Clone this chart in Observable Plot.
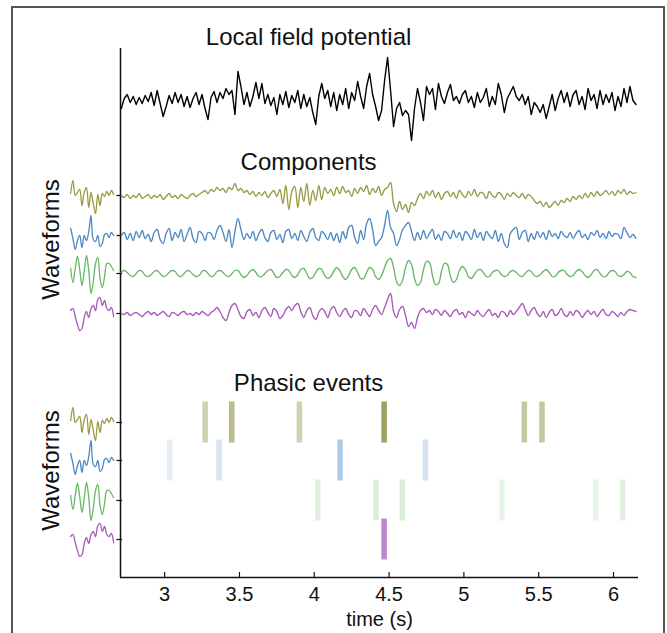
<!DOCTYPE html>
<html><head><meta charset="utf-8">
<script src="https://cdn.jsdelivr.net/npm/d3@7"></script>
<script src="https://cdn.jsdelivr.net/npm/@observablehq/plot@0.6"></script>
<style>
html,body{margin:0;padding:0;background:#fff;overflow:hidden;}
#wrap{position:relative;width:667px;height:633px;}
#wrap svg{position:absolute;left:0;top:0;}
#frame{position:absolute;left:11px;top:6px;width:654px;height:700px;border:2px solid #555;box-sizing:border-box;pointer-events:none;}
</style></head><body><div id="wrap"><div id="frame"></div></div>
<script>
// ---------- data ----------
const t0 = 2.71, dt = 0.02;           // sample grid of the traces (s)
const lfp = [-8,2,6,-2,4,-4,3,-3,5,-1,8,-5,10,-3,-16,-6,5,-3,8,-2,6,-6,4,-7,2,8,-4,6,-8,-19,3,9,-2,8,2,12,6,10,-14,29,14,-4,8,-6,4,18,2,17,-3,6,-5,3,-14,6,-4,9,-7,5,-2,10,-8,6,-6,3,-12,-24,4,17,2,10,-6,8,-10,6,-4,12,-8,8,0,19,4,-8,14,27,6,-6,-20,-10,20,43,10,-26,-8,-2,-15,-10,-14,-40,-8,12,-2,-20,14,6,12,-9,17,4,-3,8,16,0,4,-3,6,10,-2,4,-7,8,-2,3,12,-6,4,-4,17,6,-12,2,8,14,4,0,6,-4,4,-14,-2,-6,-12,-4,-18,-6,6,-10,2,10,-2,8,-6,6,10,-4,4,-9,12,0,6,-8,10,-4,6,-2,8,-10,4,-6,12,-2,14,0,-4];
const compOlive = [0,-2,1,-3,0,-2,2,-3,-1,1,-3,0,-2,1,-4,-1,2,-2,0,-3,1,-1,-3,0,2,-1,1,
  3,5,2,6,4,8,5,7,3,8,6,12,5,7,3,
  5,1,4,-1,3,0,4,-2,2,5,-1,
  6,-8,10,-14,4,9,-12,8,-6,12,-10,5,-5,10,-4,8,2,
  6,0,8,2,9,3,5,-1,7,2,8,4,10,1,7,3,9,0,6,8,13,
  -8,-16,-6,-14,-9,-17,-7,-10,-3,
  2,-3,4,0,5,-2,3,-4,2,4,-1,3,-3,5,1,-2,4,0,6,-1,3,2,-3,4,0,-2,3,1,-4,2,-1,3,0,-2,2,-3,1,-1,
  -5,-8,-6,-11,-7,-12,-9,-6,-10,-5,-7,
  -3,-6,-1,-4,0,-3,2,-2,3,-1,4,0,2,5,1,4,0,5,2,6,1,4,2,3];
const compBlue = [0,3,-4,2,-5,4,-2,5,-3,1,-6,3,6,-4,-8,2,7,-5,3,-2,6,-6,1,8,-3,-7,4,2,-5,3,
  2,-4,5,10,3,-6,6,-12,4,17,6,-4,2,
  -3,4,-5,2,6,-2,-6,3,5,-4,1,-7,4,6,-3,2,-5,5,-1,-6,3,7,-2,-5,4,1,-4,
  3,-5,2,-7,4,-3,8,10,-2,-8,5,-4,12,17,6,-10,-6,
  -2,10,25,8,2,-10,-4,6,10,13,4,-5,3,-4,
  5,-3,2,6,-4,1,-5,4,2,-3,5,-2,3,-5,4,1,-4,6,-2,3,-5,4,0,-3,5,-6,2,-8,
  -12,2,6,8,-4,3,5,-6,2,-4,4,-2,
  3,-4,5,-1,2,-3,4,0,-2,3,-3,2,5,-2,1,-4,3,0,5,-2,2,-3,4,-1,2,1,-3,8,3,-2,1,-3];
const compGreen = [1,3,1,-2,-3,0,3,2,-2,-3,-1,2,3,0,-3,-2,1,3,2,-2,-3,0,3,2,-1,-3,-2,2,3,0,
  -3,-2,2,3,1,-2,-3,0,3,3,-1,-4,-2,2,4,1,-3,-3,0,3,4,0,-4,-3,1,4,3,-2,-4,-1,
  4,5,0,-5,-4,1,5,4,-2,-5,-3,2,6,3,-3,-6,-2,4,6,1,-5,-5,1,6,4,-3,-6,-2,
  6,13,15,6,-8,-12,-7,6,13,9,-5,-12,-9,4,12,11,-2,-11,-10,2,10,9,-3,-9,-6,3,7,4,-3,-5,-1,3,
  4,1,-3,-3,1,3,3,-1,-3,-2,2,3,1,-2,-3,0,3,2,-2,-3,-1,2,4,1,-3,-3,1,3,3,-1,-3,-2,2,4,2,-2,-4,-1,3,4,0,-3,-3,1,3,2,-2,-3,-1,2,1,-3,-4];
const compPurple = [0,-1,1,-2,0,1,-1,-3,0,2,-1,1,-2,0,2,-1,-3,1,0,-2,1,2,-1,0,-2,1,-1,2,0,-2,1,
  3,6,2,-4,-7,1,8,10,4,-3,-5,2,
  4,-2,1,-4,3,6,1,-3,5,2,-5,-2,4,7,3,8,
  10,2,-4,3,6,-2,-6,1,5,2,-4,4,7,1,-3,2,5,
  -1,-4,3,2,-2,5,1,-3,4,8,3,-1,6,14,
  20,2,-4,4,7,-2,-13,-9,-15,-4,3,
  5,1,3,-1,4,2,-2,3,0,-3,2,4,-1,1,-4,2,0,-2,3,-1,-3,1,4,-2,0,-4,2,1,-3,3,-1,2,6,
  10,4,-2,3,6,0,-3,2,-4,1,4,-2,0,5,-1,-3,2,-2,3,1,-4,0,3,-1,2,-3,1,4,-1,-2,2,0,-3,1,-2,2,4,3,2];

// waveform icons (one per component)
const iconOlive  = [2,15,0,3,6,-10,3,8,-12,3,-8,-18,1,-10,2,-1,4,0,5,1];
const iconBlue   = [7,-3,-14,-5,0,-12,0,-5,4,20,-4,-6,0,-11,-8,1,2,-2,3,0];
const iconGreen  = [5,-9,5,17,4,-12,2,18,3,-20,-8,10,16,-5,-14,-3,10,10,7,3];
const iconPurple = [3,5,-3,-11,-17,-15,-4,2,-4,5,8,3,14,16,8,13,5,3,6,-3];

// phasic events: times (s) and strength
const eventsOlive  = [3.274, 3.452, 3.904, 4.470, 5.407, 5.525];
const strengthOlive = [0.42, 0.6, 0.42, 0.85, 0.5, 0.5];
const eventsBlue   = [3.036, 3.367, 4.176, 4.746];
const strengthBlue  = [0.18, 0.28, 0.55, 0.3];
const eventsGreen  = [4.027, 4.416, 4.592, 5.258, 5.884, 6.064];
const strengthGreen = [0.28, 0.3, 0.32, 0.22, 0.22, 0.26];
const eventsPurple = [4.470];
const strengthPurple = [0.72];

const xTicks = [3, 3.5, 4, 4.5, 5, 5.5, 6];
const titles = ["Local field potential", "Components", "Phasic events"];
const sideLabel = "Waveforms";
const xLabel = "time (s)";

// ---------- layout & style ----------
const xDomain = [2.705, 6.167];
const yDomain = [0, 529];
const L = {
  lfp: 477,
  comp: [382, 342, 304, 264],
  phasic: [155, 117, 77, 38],
  titleX: 3.962, titleY: [540, 415, 194],
  sideX: 2.245, sideY: [338, 107],
  iconT0: 2.372, iconDt: 0.0151,
  evHalfW: 0.0185, evHalfH: 20.5
};
const colors = ["#9a9a45", "#4d88c4", "#66b866", "#a65ab8"];
const evColors = ["#8f8f45", "#6f9fd0", "#8cc88c", "#a65ab8"];
const FONT = "'Liberation Sans', Arial, Helvetica, sans-serif";

const comps = [compOlive, compBlue, compGreen, compPurple];
const icons = [iconOlive, iconBlue, iconGreen, iconPurple];
const evT = [eventsOlive, eventsBlue, eventsGreen, eventsPurple];
const evS = [strengthOlive, strengthBlue, strengthGreen, strengthPurple];

const series = (vals, start, step, off) => vals.map((v, i) => ({t: start + i * step, y: off + v}));

const marks = [];
// axes lines
marks.push(Plot.ruleY([yDomain[0]], {stroke: "#111", strokeWidth: 1.5}));
marks.push(Plot.ruleX([xDomain[0]], {stroke: "#111", strokeWidth: 1.5}));
marks.push(Plot.ruleX(xTicks, {y1: 0, y2: 5, stroke: "#111", strokeWidth: 1.2}));
marks.push(Plot.ruleY([...L.comp, ...L.phasic], {x1: xDomain[0] - 0.024, x2: xDomain[0] + 0.014, stroke: "#111", strokeWidth: 1.2}));
marks.push(Plot.axisX(xTicks, {tickSize: 0, tickPadding: 9, fontSize: 20, tickFormat: d => String(d), label: null, fill: "#111"}));
marks.push(Plot.text([xLabel], {text: d => d, frameAnchor: "bottom", lineAnchor: "middle", dy: 42, fontSize: 20, fill: "#111"}));

// LFP
marks.push(Plot.line(series(lfp, t0, dt, L.lfp), {x: "t", y: "y", stroke: "#000", strokeWidth: 1.4}));
// components
comps.forEach((c, k) => {
  marks.push(Plot.line(series(c, t0, dt, L.comp[k]), {x: "t", y: "y", stroke: colors[k], strokeWidth: 1.35, curve: "catmull-rom"}));
});
// icons (twice)
[L.comp, L.phasic].forEach(offs => {
  icons.forEach((ic, k) => {
    marks.push(Plot.line(series(ic, L.iconT0, L.iconDt, offs[k]), {x: "t", y: "y", stroke: colors[k], strokeWidth: 1.3, curve: "catmull-rom"}));
  });
});
// events
evT.forEach((ts, k) => {
  const d = ts.map((t, i) => ({t, s: evS[k][i]}));
  marks.push(Plot.rect(d, {
    x1: e => e.t - L.evHalfW, x2: e => e.t + L.evHalfW,
    y1: () => L.phasic[k] - L.evHalfH, y2: () => L.phasic[k] + L.evHalfH,
    fill: evColors[k], fillOpacity: "s"
  }));
});
// titles
marks.push(Plot.text(titles.map((s, i) => ({s, x: L.titleX, y: L.titleY[i]})), {x: "x", y: "y", text: "s", fontSize: 24, fill: "#111"}));
marks.push(Plot.text(L.sideY.map(y => ({s: sideLabel, x: L.sideX, y})), {x: "x", y: "y", text: "s", rotate: -90, fontSize: 24, fill: "#111"}));

const chart = Plot.plot({
  width: 667, height: 633,
  marginLeft: 120, marginRight: 29, marginTop: 48, marginBottom: 56,
  x: {domain: xDomain, axis: null},
  y: {domain: yDomain, axis: null},
  style: {fontFamily: FONT, background: "transparent", overflow: "visible"},
  marks
});
document.getElementById("wrap").prepend(chart);
</script>
</body></html>
